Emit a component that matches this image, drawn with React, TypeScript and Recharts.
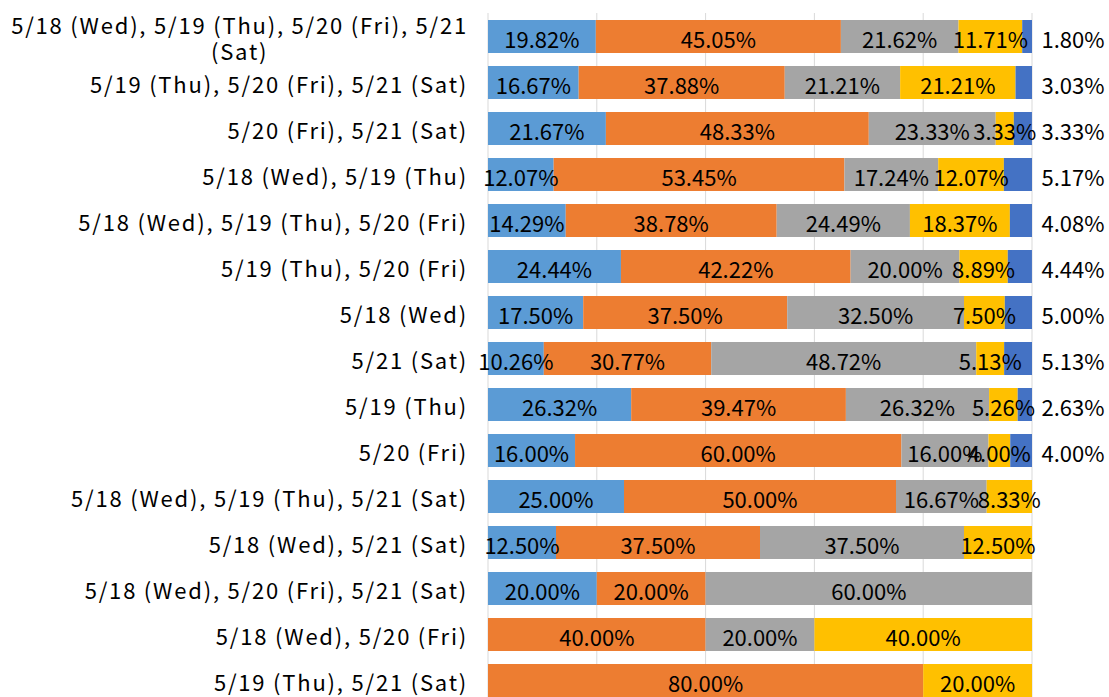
import React from 'react';
import { BarChart, Bar, XAxis, YAxis, CartesianGrid, LabelList } from 'recharts';

const categories = [
  '5/18 (Wed), 5/19 (Thu), 5/20 (Fri), 5/21 (Sat)',
  '5/19 (Thu), 5/20 (Fri), 5/21 (Sat)',
  '5/20 (Fri), 5/21 (Sat)',
  '5/18 (Wed), 5/19 (Thu)',
  '5/18 (Wed), 5/19 (Thu), 5/20 (Fri)',
  '5/19 (Thu), 5/20 (Fri)',
  '5/18 (Wed)',
  '5/21 (Sat)',
  '5/19 (Thu)',
  '5/20 (Fri)',
  '5/18 (Wed), 5/19 (Thu), 5/21 (Sat)',
  '5/18 (Wed), 5/21 (Sat)',
  '5/18 (Wed), 5/20 (Fri), 5/21 (Sat)',
  '5/18 (Wed), 5/20 (Fri)',
  '5/19 (Thu), 5/21 (Sat)',
];

const series1 = [19.82, 16.67, 21.67, 12.07, 14.29, 24.44, 17.5, 10.26, 26.32, 16.0, 25.0, 12.5, 20.0, 0, 0];
const series2 = [45.05, 37.88, 48.33, 53.45, 38.78, 42.22, 37.5, 30.77, 39.47, 60.0, 50.0, 37.5, 20.0, 40.0, 80.0];
const series3 = [21.62, 21.21, 23.33, 17.24, 24.49, 20.0, 32.5, 48.72, 26.32, 16.0, 16.67, 37.5, 60.0, 20.0, 0];
const series4 = [11.71, 21.21, 3.33, 12.07, 18.37, 8.89, 7.5, 5.13, 5.26, 4.0, 8.33, 12.5, 0, 40.0, 20.0];
const series5 = [1.8, 3.03, 3.33, 5.17, 4.08, 4.44, 5.0, 5.13, 2.63, 4.0, 0, 0, 0, 0, 0];

const xTicks = [0, 20, 40, 60, 80, 100];
const colors = ['#5B9BD5', '#ED7D31', '#A5A5A5', '#FFC000', '#4472C4'];

const data = categories.map((name, i) => ({
  name,
  s1: series1[i],
  s2: series2[i],
  s3: series3[i],
  s4: series4[i],
  s5: series5[i],
}));

const FONT = '"Noto Sans CJK JP", "Noto Sans", sans-serif';
const TICK_SIZE = 22;
const TICK_SPACING = 1.8;
const LABEL_SIZE = 22;

let ctx: CanvasRenderingContext2D | null = null;
const measure = (text: string) => {
  if (!ctx) ctx = document.createElement('canvas').getContext('2d');
  if (!ctx) return text.length * 11;
  ctx.font = `${TICK_SIZE}px ${FONT}`;
  return ctx.measureText(text).width + text.length * TICK_SPACING;
};

// excel-style wrap: break long labels, lines centred to each other
const wrap = (text: string, maxChars = 40) => {
  const words = text.split(' ');
  const lines: string[] = [];
  let cur = '';
  words.forEach((w) => {
    const next = cur ? cur + ' ' + w : w;
    if (next.length > maxChars && cur) {
      lines.push(cur);
      cur = w;
    } else {
      cur = next;
    }
  });
  if (cur) lines.push(cur);
  return lines;
};

const CategoryTick = ({ x, y, payload }: any) => {
  const lines = wrap(payload.value);
  const blockW = Math.max(...lines.map(measure));
  const cx = x - blockW / 2;
  const lh = 26;
  const top = y - ((lines.length - 1) * lh) / 2;
  return (
    <g>
      {lines.map((ln, i) => (
        <text
          key={i}
          x={cx}
          y={top + i * lh}
          dy={1}
          textAnchor="middle"
          dominantBaseline="central"
          fontFamily={FONT}
          fontSize={TICK_SIZE}
          letterSpacing={TICK_SPACING}
          fill="#000"
        >
          {ln}
        </text>
      ))}
    </g>
  );
};

const insideLabel = (props: any) => {
  const { x, y, width, height, value } = props;
  if (!value) return null;
  return (
    <text
      x={x + width / 2}
      y={y + height / 2}
      dy={1}
      textAnchor="middle"
      dominantBaseline="central"
      fontFamily={FONT}
      fontSize={LABEL_SIZE}
      fill="#000"
    >
      {Number(value).toFixed(2)}%
    </text>
  );
};

const outsideLabel = (props: any) => {
  const { x, y, width, height, value } = props;
  if (!value) return null;
  return (
    <text
      x={x + width + 41}
      y={y + height / 2}
      dy={1}
      textAnchor="middle"
      dominantBaseline="central"
      fontFamily={FONT}
      fontSize={LABEL_SIZE}
      fill="#000"
    >
      {Number(value).toFixed(2)}%
    </text>
  );
};

export default function App() {
  const keys = ['s1', 's2', 's3', 's4', 's5'];
  return (
    <div
      style={{
        position: 'absolute',
        left: 0,
        top: 0,
        width: 1109,
        height: 697,
        overflow: 'hidden',
        background: '#fff',
      }}
    >
      <BarChart
        width={1109}
        height={720}
        data={data}
        layout="vertical"
        margin={{ top: 13, right: 77, left: 0, bottom: 17 }}
      >
        <CartesianGrid horizontal={false} stroke="#D9D9D9" />
        <XAxis type="number" domain={[0, 100]} ticks={xTicks} allowDataOverflow hide />
        <YAxis
          type="category"
          dataKey="name"
          width={488}
          axisLine={false}
          tickLine={false}
          tickSize={0}
          tickMargin={20}
          interval={0}
          tick={<CategoryTick />}
        />
        {keys.map((k, i) => (
          <Bar key={k} dataKey={k} stackId="a" fill={colors[i]} barSize={33} isAnimationActive={false}>
            <LabelList dataKey={k} content={i === 4 ? outsideLabel : insideLabel} />
          </Bar>
        ))}
      </BarChart>
    </div>
  );
}
